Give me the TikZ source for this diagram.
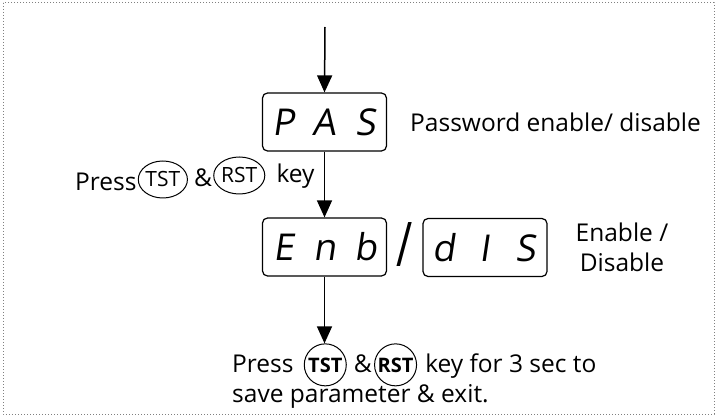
\documentclass[tikz,border=0pt]{standalone}
\usepackage{fontspec}
\setmainfont{Open Sans}
\newfontfamily\segfont{Open Sans}[FakeSlant=0.15]
\usetikzlibrary{positioning, arrows.meta, shapes.geometric}
\tikzset{
  disp/.style={draw, line width=1.2pt, rounded corners=5pt, minimum width=124pt, minimum height=58pt, inner sep=0pt, font=\segfont\fontsize{37}{37}\selectfont},
  keyo/.style={draw, ellipse, line width=1pt, inner sep=0pt, minimum width=41pt, minimum height=37pt, yshift=4pt, font=\fontsize{21}{24}\selectfont},
  keyc/.style={draw, circle, line width=1pt, inner sep=0pt, minimum size=42pt, font=\bfseries\fontsize{20}{24}\selectfont},
  txt/.style={inner sep=0pt, font=\fontsize{24.5}{30}\selectfont},
  flow/.style={-{Triangle[length=17pt,width=15pt]}, line width=1.5pt},
}
\newcommand{\segs}[3]{\makebox[41pt]{#1}\makebox[41pt]{#2}\makebox[41pt]{#3}}
\begin{document}
\begin{tikzpicture}[x=1pt, y=-1pt]
  \useasboundingbox (0,0) rectangle (716,417);
  \draw[gray, dotted, line width=1pt] (3,3) rectangle (714,414);

  % displays
  \coordinate (top) at (325,27);
  \node[disp] (pas) at (324.5,122) {\segs PAS};
  \node[txt, anchor=west] (paslbl) at (410,122) {Password enable/ disable};
  \node[disp] (enb) at (324.5,247) {\segs Enb};
  \node[inner sep=0pt, font=\fontsize{44}{44}\selectfont] (slash) at (405,245) {\scalebox{1}[1.4]{/}};
  \node[disp] (dis) at (485,247.5) {\segs dIS};
  \node[txt, align=center] (dislbl) at (622,247) {Enable /\\Disable};

  % keys
  \node[txt, anchor=base west] (press) at (75,191) {Press};
  \node[keyo, base right=1pt of press] (tst) {TST};
  \node[txt, base right=6pt of tst] (amp) {\&};
  \node[keyo, base right=1pt of amp] (rst) {RST};
  \node[txt, base right=11pt of rst] (key) {key};

  \node[txt, anchor=base west] (press2) at (232,372) {Press};
  \node[keyc, base right=10pt of press2] (btst) {TST};
  \node[txt, base right=7pt of btst] (amp2) {\&};
  \node[keyc, base right=2pt of amp2] (brst) {RST};
  \node[txt, base right=8pt of brst] (rest) {key for 3 sec to};
  \node[txt, anchor=base west] (save) at (232,402) {save parameter \& exit.};

  % arrows
  \draw[flow] (top) -- (pas.north);
  \draw[flow] (pas.south) -- (enb.north);
  \draw[flow] (enb.south) -- (enb.south |- btst.north);
\end{tikzpicture}
\end{document}
